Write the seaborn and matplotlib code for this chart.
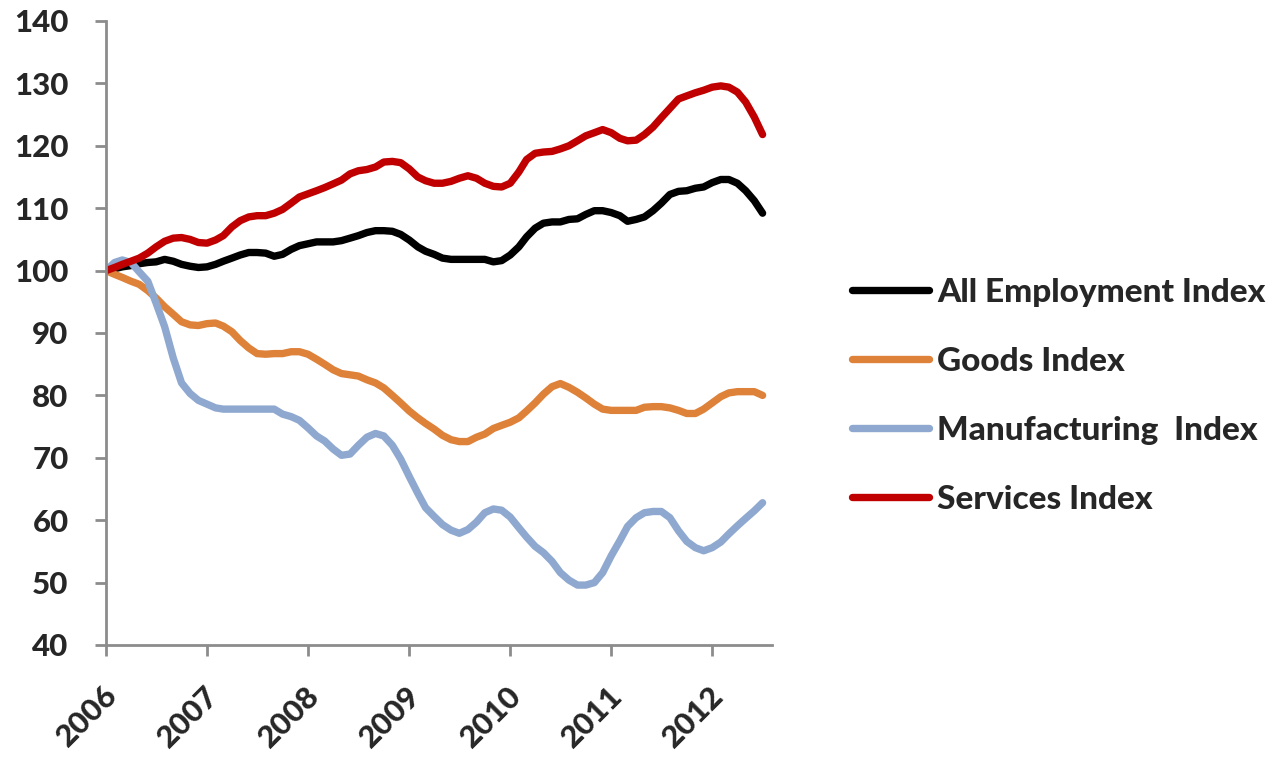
import pandas as pd
import seaborn as sns
import matplotlib.pyplot as plt
import matplotlib.dates as mdates
from matplotlib.transforms import ScaledTranslation

sns.set_theme(style="white")
plt.rcParams['font.family'] = ['Lato', 'DejaVu Sans']
plt.rcParams['font.weight'] = 'bold'

# Indices mensuales, ene 2006 = 100
months = pd.date_range("2006-01-01", periods=79, freq="MS")

all_employment = [
    100.0, 100.3, 100.6, 100.8, 101.1, 101.3, 101.4, 101.8, 101.5, 101.0, 100.7, 100.5,
    100.6, 101.0, 101.5, 102.0, 102.5, 102.9, 102.9, 102.8, 102.3, 102.6, 103.4, 104.0,
    104.3, 104.6, 104.6, 104.6, 104.8, 105.2, 105.6, 106.1, 106.4, 106.4, 106.3, 105.8,
    104.9, 103.8, 103.1, 102.6, 102.0, 101.8, 101.8, 101.8, 101.8, 101.8, 101.4, 101.6,
    102.5, 103.8, 105.4, 106.8, 107.6, 107.8, 107.8, 108.2, 108.3, 109.0, 109.6, 109.6,
    109.3, 108.8, 107.9, 108.2, 108.6, 109.6, 110.8, 112.2, 112.7, 112.8, 113.2, 113.4,
    114.1, 114.6, 114.6, 114.0, 112.8, 111.2, 109.2,
]
goods = [
    100.0, 99.4, 98.9, 98.3, 97.8, 96.8, 95.6, 94.2, 93.0, 91.8, 91.3, 91.2,
    91.5, 91.6, 91.1, 90.2, 88.8, 87.6, 86.7, 86.6, 86.7, 86.7, 87.0, 87.0,
    86.6, 85.8, 85.0, 84.1, 83.5, 83.3, 83.1, 82.5, 82.0, 81.2, 80.0, 78.8,
    77.5, 76.4, 75.5, 74.6, 73.6, 72.9, 72.6, 72.6, 73.3, 73.8, 74.7, 75.2,
    75.7, 76.4, 77.5, 78.8, 80.2, 81.4, 81.9, 81.3, 80.5, 79.6, 78.6, 77.8,
    77.6, 77.6, 77.6, 77.6, 78.1, 78.2, 78.2, 78.0, 77.6, 77.1, 77.1, 77.8,
    78.8, 79.8, 80.4, 80.6, 80.6, 80.6, 80.0,
]
manufacturing = [
    100.0, 101.3, 101.7, 101.3, 99.8, 98.3, 94.8, 91.0, 86.0, 82.0, 80.3, 79.2,
    78.6, 78.0, 77.8, 77.8, 77.8, 77.8, 77.8, 77.8, 77.8, 77.0, 76.6, 76.0,
    74.8, 73.5, 72.7, 71.4, 70.4, 70.6, 72.0, 73.3, 73.9, 73.5, 72.0, 69.8,
    67.0, 64.3, 62.0, 60.6, 59.3, 58.4, 57.9, 58.5, 59.7, 61.2, 61.8, 61.6,
    60.5, 58.8, 57.3, 55.8, 54.8, 53.4, 51.6, 50.4, 49.6, 49.6, 50.0, 51.6,
    54.3, 56.7, 59.0, 60.4, 61.2, 61.4, 61.4, 60.4, 58.3, 56.6, 55.6, 55.1,
    55.6, 56.5, 57.8, 59.1, 60.3, 61.5, 62.8,
]
services = [
    100.0, 100.5, 101.0, 101.5, 102.0, 102.8, 103.8, 104.7, 105.2, 105.3, 105.0, 104.5,
    104.4, 104.9, 105.6, 107.0, 108.0, 108.6, 108.8, 108.8, 109.2, 109.8, 110.8, 111.8,
    112.3, 112.8, 113.3, 113.9, 114.5, 115.5, 116.0, 116.2, 116.6, 117.4, 117.5, 117.3,
    116.3, 115.0, 114.4, 114.0, 114.0, 114.3, 114.8, 115.2, 114.8, 114.0, 113.5, 113.4,
    114.0, 115.8, 117.8, 118.8, 119.0, 119.1, 119.5, 120.0, 120.8, 121.6, 122.1, 122.6,
    122.1, 121.2, 120.8, 120.9, 121.8, 123.0, 124.5, 126.0, 127.5, 128.0, 128.5, 128.9,
    129.4, 129.6, 129.4, 128.6, 127.0, 124.6, 121.8,
]

series_names = ["All Employment Index", "Goods Index", "Manufacturing  Index", "Services Index"]
colors = ["#000000", "#DE8139", "#8EA8CF", "#C00000"]

df = pd.concat([
    pd.DataFrame({"date": months, "value": vals, "series": name})
    for name, vals in zip(series_names, [all_employment, goods, manufacturing, services])
], ignore_index=True)

fig = plt.figure(figsize=(12.78, 7.64), dpi=100)
ax = fig.add_axes([106 / 1278, 1 - 645 / 764, 666 / 1278, 624 / 764])

sns.lineplot(data=df, x="date", y="value", hue="series", hue_order=series_names,
             palette=dict(zip(series_names, colors)), linewidth=5.3, ax=ax, legend=False)
for line in ax.get_lines():
    line.set_solid_capstyle("round")
    line.set_solid_joinstyle("round")

ax.set_ylim(40, 140)
ax.set_yticks(range(40, 141, 10))
ax.set_xlim(pd.Timestamp("2006-01-01"), pd.Timestamp("2012-08-04"))
ax.xaxis.set_major_locator(mdates.YearLocator())
ax.xaxis.set_major_formatter(mdates.DateFormatter("%Y"))
ax.set_xlabel("")
ax.set_ylabel("")

gray = "#8C8C8C"
for side in ["top", "right"]:
    ax.spines[side].set_visible(False)
for side in ["left", "bottom"]:
    ax.spines[side].set_color(gray)
    ax.spines[side].set_linewidth(2)
ax.tick_params(axis="y", length=8, width=2, color=gray, labelsize=22.5, pad=19, left=True)
ax.tick_params(axis="x", length=8, width=2, color=gray, labelsize=22.5, pad=25, bottom=True)

shift = ScaledTranslation(7 / 100, 0, fig.dpi_scale_trans)
for lab in ax.get_xticklabels():
    lab.set_rotation(45)
    lab.set_ha("right")
    lab.set_va("center")
    lab.set_rotation_mode("anchor")
    lab.set_transform(lab.get_transform() + shift)
for lab in ax.get_xticklabels() + ax.get_yticklabels():
    lab.set_fontweight("black")
ax.grid(False)

handles = ax.get_lines()[:4]
leg = fig.legend(handles, series_names, loc="center left",
                 bbox_to_anchor=(852 / 1278, 1 - 396 / 764), bbox_transform=fig.transFigure,
                 frameon=False, fontsize=24, handlelength=2.3, handletextpad=0.25,
                 labelspacing=1.2, borderpad=0, borderaxespad=0)
for t in leg.get_texts():
    t.set_fontweight("black")

fig.savefig("out.png", dpi=100)
